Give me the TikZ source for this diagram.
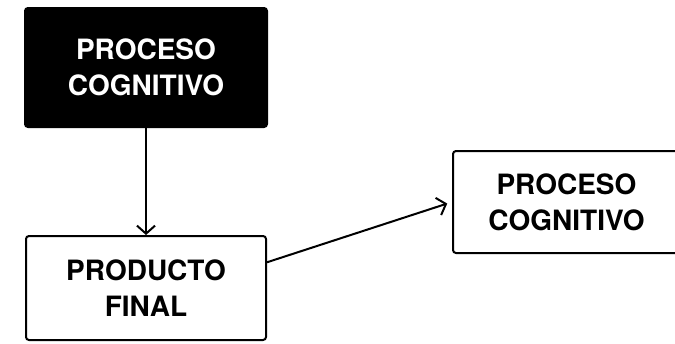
\documentclass[tikz,border=0pt]{standalone}
\usepackage{fontspec}
\setmainfont{TeX Gyre Heros}
\usepackage{tikz}
\usetikzlibrary{positioning,calc,arrows.meta}

\begin{document}
\begin{tikzpicture}[x=1pt, y=-1pt,
    box/.style={draw=black, line width=2pt, rounded corners=3pt, align=center,
        font=\bfseries\fontsize{28}{36}\selectfont, inner sep=0pt},
    link/.style={line width=2pt, -{Straight Barb[length=8pt,width=18pt,line width=2pt]}}]
    \clip (0,0) rectangle (675,343);
    \fill[white] (0,0) rectangle (675,343);

    % Top
    \node[box, fill=black, text=white, minimum width=242pt, minimum height=119pt] (proc) at (146,67.5) {PROCESO\\COGNITIVO};

    % Bottom
    \node[box, fill=white, minimum width=240pt, minimum height=104pt] (prod) at (146,288) {PRODUCTO\\FINAL};

    % Right
    \node[box, fill=white, minimum width=227pt, minimum height=102pt] (cog) at (566.5,202) {PROCESO\\COGNITIVO};

    \draw[link] (proc.south) -- (prod.north);
    \draw[link, shorten >=5pt] (prod.12) -- (cog.west);
\end{tikzpicture}
\end{document}
